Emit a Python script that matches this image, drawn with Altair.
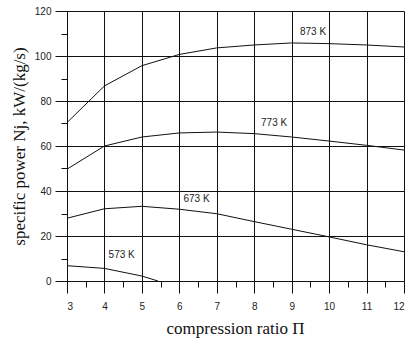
import altair as alt
import pandas as pd

x_vals = [3, 4, 5, 6, 7, 8, 9, 10, 11, 12]
p873 = [70.4, 86.7, 95.7, 100.7, 103.6, 104.9, 105.8, 105.5, 104.9, 104.0]
p773 = [49.7, 60.0, 64.0, 65.8, 66.2, 65.5, 64.0, 62.2, 60.3, 58.2]
p673 = [27.9, 32.1, 33.2, 31.9, 29.9, 26.4, 23.0, 19.6, 16.1, 13.0]
x573 = [3, 4, 5, 5.43]
p573 = [6.8, 5.6, 2.2, 0.0]

label_text = ["873 K", "773 K", "673 K", "573 K"]
label_x = [9.57, 8.53, 6.46, 4.46]
label_y = [110.7, 70.2, 36.3, 11.4]

x_major = [3, 4, 5, 6, 7, 8, 9, 10, 11, 12]
x_minor = [3.5, 4.5, 5.5, 6.5, 7.5, 8.5, 9.5, 10.5, 11.5]
y_major = [0, 20, 40, 60, 80, 100, 120]
y_minor = [10, 30, 50, 70, 90, 110]

rows = []
for name, xs, ys in [("873", x_vals, p873), ("773", x_vals, p773),
                     ("673", x_vals, p673), ("573", x573, p573)]:
    for a, b in zip(xs, ys):
        rows.append({"series": name, "x": a, "y": b})
df = pd.DataFrame(rows)
lab = pd.DataFrame({"t": label_text, "x": label_x, "y": label_y})

xs = alt.Scale(domain=[3, 12], nice=False, zero=False)
ys = alt.Scale(domain=[0, 120], nice=False)

SANS = "Liberation Sans"
SERIF = "Liberation Serif"

x_axis = alt.Axis(values=x_major, grid=True, gridColor="#111", gridWidth=1, gridOpacity=1,
                  domain=False, tickSize=12, tickColor="#111", tickWidth=1,
                  labelFont=SANS, labelFontSize=10, labelColor="#222", labelPadding=8,
                  title="compression ratio Π", titleFont=SERIF, titleFontSize=17,
                  titleFontWeight="normal", titleColor="#111",
                  titleX=168, titleY=47, titleBaseline="middle", titleAlign="center")
y_axis = alt.Axis(values=y_major, grid=True, gridColor="#111", gridWidth=1, gridOpacity=1,
                  domain=True, domainColor="#111", tickSize=12, tickColor="#111", tickWidth=1,
                  labelFont=SANS, labelFontSize=10, labelColor="#222", labelPadding=4,
                  title="specific power Nj, kW/(kg/s)", titleFont=SERIF, titleFontSize=17,
                  titleFontWeight="normal", titleColor="#111",
                  titleX=-48, titleY=135, titleBaseline="middle", titleAlign="center",
                  titleAngle=270)

lines = alt.Chart(df).mark_line(color="#111", strokeWidth=1).encode(
    x=alt.X("x:Q", scale=xs, axis=x_axis),
    y=alt.Y("y:Q", scale=ys, axis=y_axis),
    detail="series:N",
)

minor = alt.Chart(df).mark_point(opacity=0).encode(
    x=alt.X("x:Q", scale=xs, axis=alt.Axis(values=x_minor, orient="bottom", labels=False,
                                            grid=False, domain=False, tickSize=6,
                                            tickColor="#111", tickWidth=1, title=None)),
    y=alt.Y("y:Q", scale=ys, axis=alt.Axis(values=y_minor, orient="left", labels=False,
                                            grid=False, domain=False, tickSize=6,
                                            tickColor="#111", tickWidth=1, title=None)),
)

texts = alt.Chart(lab).mark_text(font=SANS, fontSize=10, color="#222",
                                 align="center", baseline="middle").encode(
    x=alt.X("x:Q", scale=xs, axis=None),
    y=alt.Y("y:Q", scale=ys, axis=None),
    text="t:N",
)

chart = alt.layer(lines, minor, texts).resolve_axis(x="independent", y="independent").properties(
    width=337, height=270,
    autosize=alt.AutoSizeParams(type="none"),
    padding={"left": 67, "top": 11, "right": 5, "bottom": 57},
).configure_view(stroke=None).configure(background="white")

chart.save("out.html", embed_options={"renderer": "svg", "actions": False})
